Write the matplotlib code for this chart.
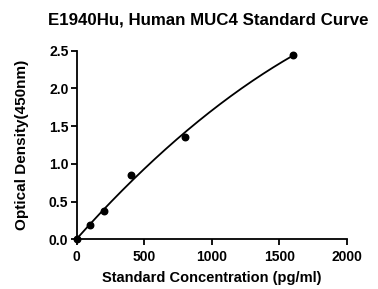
import numpy as np
import matplotlib
matplotlib.use("Agg")
import matplotlib.pyplot as plt

plt.rcParams['font.family'] = ['Liberation Sans', 'DejaVu Sans']
plt.rcParams['font.weight'] = 'bold'

conc = [0, 100, 200, 400, 800, 1600]
od = [0.0, 0.19, 0.37, 0.85, 1.36, 2.44]
xticks = [0, 500, 1000, 1500, 2000]
yticks = [0.0, 0.5, 1.0, 1.5, 2.0, 2.5]

fig = plt.figure(figsize=(3.78, 2.89), dpi=100)
ax = fig.add_axes([0.203, 0.172, 0.714, 0.653])

coef = np.polyfit(conc, od, 2)
xs = np.linspace(0, max(conc), 200)
ax.plot(xs, np.polyval(coef, xs), color='black', lw=1.3, zorder=2)
ax.scatter(conc, od, s=22, color='black', zorder=3, clip_on=False)

ax.set_xlim(0, 2000)
ax.set_ylim(0, 2.5)
ax.set_xticks(xticks)
ax.set_yticks(yticks)
ax.set_xticklabels([str(v) for v in xticks])
ax.set_yticklabels([f"{v:.1f}" for v in yticks])
for s in ['top', 'right']:
    ax.spines[s].set_visible(False)
for s in ['left', 'bottom']:
    ax.spines[s].set_linewidth(1.3)
ax.tick_params(axis='both', direction='out', length=4, width=1.3, labelsize=10, pad=2)
ax.tick_params(axis='x', pad=4)
for lab in ax.get_xticklabels() + ax.get_yticklabels():
    lab.set_fontweight('bold')

ax.set_xlabel('Standard Concentration (pg/ml)', fontsize=10.5, fontweight='bold', labelpad=5)
ax.set_ylabel('Optical Density(450nm)', fontsize=11, fontweight='bold', labelpad=14)
fig.text(0.55, 0.93, 'E1940Hu, Human MUC4 Standard Curve', ha='center', va='center',
         fontsize=12.2, fontweight='bold')

fig.savefig('out.png', dpi=100)
